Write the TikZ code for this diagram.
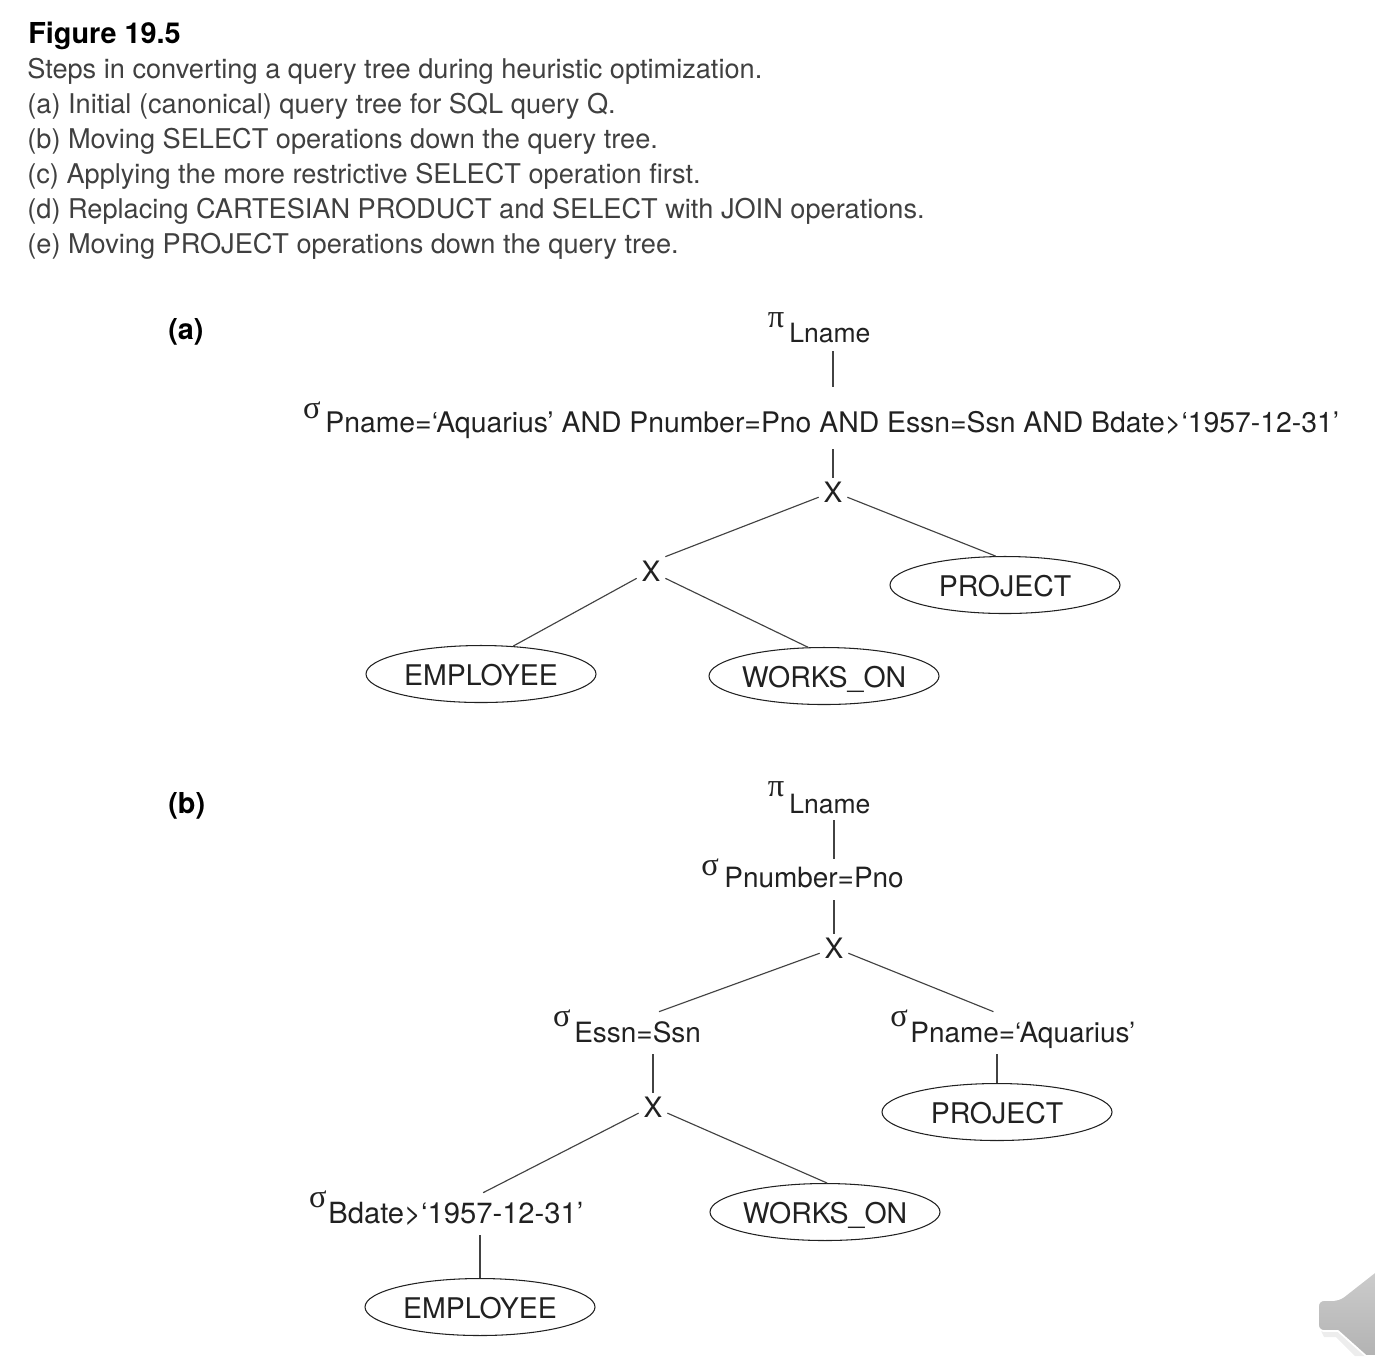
\documentclass[tikz,border=0pt]{standalone}
\usepackage{fontspec}
\setmainfont{TeX Gyre Heros}
\newfontfamily\greekfont{Liberation Serif}
\usetikzlibrary{shapes.geometric}
\definecolor{inkgray}{gray}{0.13}
\definecolor{captiongray}{gray}{0.25}
\tikzset{
    caption/.style={anchor=base west, inner sep=0pt, text=captiongray, font=\fontsize{15.46}{18}\selectfont},
    heading/.style={anchor=base west, inner sep=0pt, text=black, font=\fontsize{16.4}{18}\selectfont\bfseries},
    oplabel/.style={anchor=base west, inner xsep=0pt, inner ysep=0pt, text=inkgray, text height=0.60cm, text depth=0.24cm, font=\fontsize{15.9}{18}\selectfont},
    greek/.style={inner sep=0pt, text=inkgray, font=\fontsize{18.5}{18}\selectfont\greekfont},
    cross/.style={inner sep=0pt, minimum size=0.56cm, text=inkgray, font=\fontsize{16}{18}\selectfont},
    relation/.style={draw=inkgray, line width=0.6pt, ellipse, inner xsep=-0.4cm, inner ysep=0pt, minimum width=4.60cm, minimum height=1.14cm, text=inkgray, text height=0.44cm, text depth=0cm, font=\fontsize{16.2}{18}\selectfont},
    edge/.style={draw=inkgray!85, line width=0.65pt}
}
\begin{document}
\begin{tikzpicture}
    \useasboundingbox (0,0) rectangle (27.52,-27.12);

    \node[heading] (title) at (0.56,-0.86) {Figure 19.5};
    \node[caption] (capmain) at (0.54,-1.56) {Steps in converting a query tree during heuristic optimization.};
    \node[caption] (capa) at (0.54,-2.26) {(a) Initial (canonical) query tree for SQL query Q.};
    \node[caption] (capb) at (0.54,-2.96) {(b) Moving SELECT operations down the query tree.};
    \node[caption] (capc) at (0.54,-3.66) {(c) Applying the more restrictive SELECT operation first.};
    \node[caption] (capd) at (0.54,-4.36) {(d) Replacing CARTESIAN PRODUCT and SELECT with JOIN operations.};
    \node[caption] (cape) at (0.54,-5.06) {(e) Moving PROJECT operations down the query tree.};

    \node[heading] (panela) at (3.36,-6.78) {(a)};
    \node[greek] (piA) at (15.52,-6.40) {π};
    \node[oplabel, text depth=0.18cm, font=\fontsize{15.1}{18}\selectfont] (lnameA) at (15.78,-6.84) {Lname};
    \node[greek] (sigA) at (6.24,-8.20) {σ};
    \node[oplabel, text height=0.90cm, text depth=0.34cm, font=\fontsize{16.14}{18}\selectfont] (selA) at (6.50,-8.64) {Pname=‘Aquarius’ AND Pnumber=Pno AND Essn=Ssn AND Bdate>‘1957-12-31’};
    \node[cross] (xtopA) at (16.66,-9.84) {X};
    \node[cross] (xlowA) at (13.02,-11.42) {X};
    \node[relation] (projA) at (20.10,-11.70) {PROJECT};
    \node[relation] (empA) at (9.62,-13.48) {EMPLOYEE};
    \node[relation] (worksA) at (16.48,-13.52) {WORKS\_ON};

    \draw[edge] (lnameA.south -| xtopA.north) -- (selA.north -| xtopA.north);
    \draw[edge] (selA.south -| xtopA.north) -- (xtopA.north);
    \draw[edge] (xtopA.200) -- (xlowA.45);
    \draw[edge] (xtopA.340) -- (projA.108);
    \draw[edge] (xlowA.207) -- (empA.41);
    \draw[edge] (xlowA.333) -- (worksA.119);

    \node[heading] (panelb) at (3.36,-16.26) {(b)};
    \node[greek] (piB) at (15.52,-15.78) {π};
    \node[oplabel, text depth=0.14cm, font=\fontsize{15.1}{18}\selectfont] (lnameB) at (15.78,-16.26) {Lname};
    \node[greek] (sigPno) at (14.20,-17.34) {σ};
    \node[oplabel, text height=0.56cm, text depth=0.26cm] (pnoB) at (14.48,-17.74) {Pnumber=Pno};
    \node[cross] (xtopB) at (16.68,-18.96) {X};
    \node[greek] (sigEssn) at (11.24,-20.36) {σ};
    \node[oplabel] (essnB) at (11.48,-20.84) {Essn=Ssn};
    \node[greek] (sigPname) at (17.98,-20.36) {σ};
    \node[oplabel] (pnameB) at (18.20,-20.84) {Pname=‘Aquarius’};
    \node[cross] (xlowB) at (13.06,-22.14) {X};
    \node[relation] (projB) at (19.94,-22.24) {PROJECT};
    \node[greek] (sigBdate) at (6.36,-23.98) {σ};
    \node[oplabel, font=\fontsize{16.6}{18}\selectfont] (bdateB) at (6.56,-24.46) {Bdate>‘1957-12-31’};
    \node[relation] (worksB) at (16.50,-24.24) {WORKS\_ON};
    \node[relation] (empB) at (9.60,-26.14) {EMPLOYEE};

    \draw[edge] (lnameB.south -| xtopB.north) -- (pnoB.north -| xtopB.north);
    \draw[edge] (pnoB.south -| xtopB.north) -- (xtopB.north);
    \draw[edge] (xtopB.200) -- (essnB.45);
    \draw[edge] (xtopB.340) -- (pnameB.144);
    \draw[edge] (pnameB.south -| projB.north) -- (projB.north);
    \draw[edge] (essnB.south -| xlowB.north) -- (xlowB.north);
    \draw[edge] (xlowB.203) -- (bdateB.38);
    \draw[edge] (xlowB.337) -- (worksB.86);
    \draw[edge] (bdateB.south -| empB.north) -- (empB.north);

    \fill[gray!14] (26.42,-26.62) -- (26.76,-26.62) -- (27.32,-27.12) -- (27.10,-27.12) -- (26.72,-26.74) -- (26.48,-26.74) -- cycle;
    \path[draw=white, line width=1pt, top color=gray!40, bottom color=gray!60, rounded corners=0.12cm] (26.36,-26.00) -- (26.78,-26.00) [sharp corners] -- (27.52,-25.42) -- (27.52,-27.12) -- (27.32,-27.12) -- (26.76,-26.62) [rounded corners=0.12cm] -- (26.36,-26.62) -- cycle;
\end{tikzpicture}
\end{document}
